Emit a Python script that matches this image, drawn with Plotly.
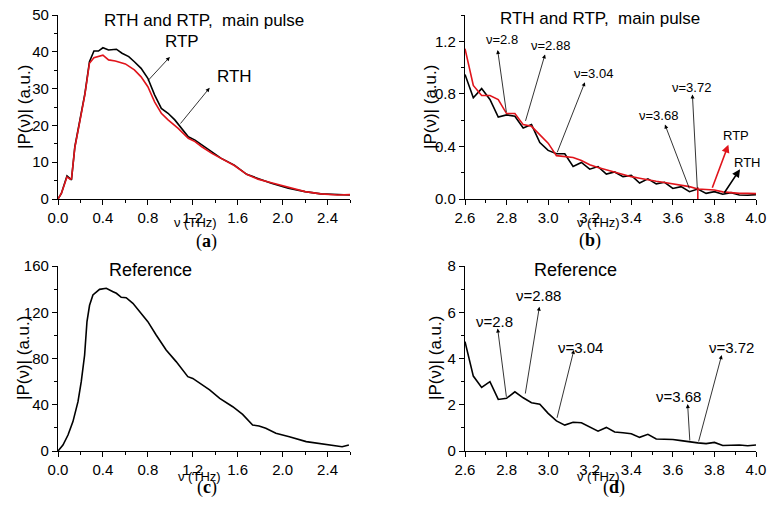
import plotly.graph_objects as go

# panel (a): main pulse, 0 - 2.6 THz
a_nu_rth = [0, 0.03, 0.08, 0.107, 0.12, 0.15, 0.2, 0.24, 0.28, 0.32, 0.36, 0.40, 0.45, 0.49, 0.52,
            0.57, 0.63, 0.68, 0.74, 0.80, 0.86, 0.92, 0.98, 1.04, 1.10, 1.16, 1.22, 1.28, 1.37,
            1.45, 1.57, 1.68, 1.78, 1.90, 2.05, 2.20, 2.34, 2.49, 2.60]
a_rth = [0, 1.5, 6.3, 5.6, 5.2, 14.2, 22.4, 28.7, 37.3, 40.2, 40.2, 41.1, 40.5, 40.5, 40.7,
         39.6, 38.7, 37.3, 35.5, 32.8, 28.3, 24.6, 23.3, 21.5, 19.2, 16.9, 16.0, 14.7, 12.9,
         11.1, 9.2, 6.7, 5.6, 4.3, 2.9, 2.0, 1.4, 1.2, 1.1]
a_nu_rtp = [0, 0.03, 0.08, 0.107, 0.12, 0.15, 0.2, 0.24, 0.28, 0.32, 0.40, 0.45, 0.51, 0.60,
            0.68, 0.74, 0.80, 0.86, 0.92, 0.98, 1.07, 1.16, 1.22, 1.28, 1.37, 1.45, 1.57,
            1.68, 1.78, 1.90, 2.05, 2.20, 2.34, 2.49, 2.60]
a_rtp = [0, 1.5, 6.0, 5.4, 5.5, 14.0, 22.0, 28.5, 36.9, 38.4, 39.1, 37.8, 37.5, 36.7,
         35.1, 33.2, 30.5, 26.4, 23.3, 21.5, 19.2, 16.5, 15.6, 14.2, 12.4, 11.1, 9.1,
         6.7, 5.4, 4.4, 3.1, 2.0, 1.4, 1.1, 1.2]

# panel (b): main pulse, 2.6 - 4.0 THz
b_nu = [2.60, 2.64, 2.68, 2.72, 2.76, 2.80, 2.84, 2.88, 2.92, 2.96, 3.00, 3.04, 3.08, 3.12,
        3.16, 3.20, 3.24, 3.28, 3.32, 3.36, 3.40, 3.44, 3.48, 3.52, 3.56, 3.60, 3.64, 3.68,
        3.72, 3.76, 3.80, 3.84, 3.88, 3.92, 3.96, 4.00]
b_rth = [0.948, 0.77, 0.84, 0.757, 0.624, 0.64, 0.63, 0.54, 0.566, 0.43, 0.37, 0.344, 0.344,
         0.247, 0.278, 0.227, 0.247, 0.19, 0.206, 0.17, 0.18, 0.122, 0.153, 0.115, 0.127,
         0.08, 0.094, 0.056, 0.076, 0.043, 0.056, 0.036, 0.048, 0.03, 0.028, 0.033]
b_rtp = [1.144, 0.864, 0.787, 0.787, 0.757, 0.65, 0.65, 0.566, 0.553, 0.49, 0.425, 0.33, 0.324,
         0.316, 0.293, 0.26, 0.24, 0.222, 0.204, 0.19, 0.17, 0.158, 0.145, 0.135, 0.125,
         0.115, 0.10, 0.094, 0.076, 0.074, 0.069, 0.054, 0.048, 0.043, 0.043, 0.041]

# panel (c): reference, 0 - 2.6 THz
c_nu = [0, 0.044, 0.089, 0.133, 0.178, 0.207, 0.237, 0.258, 0.281, 0.311, 0.37, 0.43, 0.49,
        0.52, 0.563, 0.607, 0.667, 0.726, 0.80, 0.874, 0.963, 1.052, 1.156, 1.20, 1.26, 1.35,
        1.44, 1.556, 1.644, 1.689, 1.733, 1.79, 1.85, 1.94, 2.06, 2.21, 2.33, 2.44, 2.53, 2.59]
c_ref = [0, 5.2, 13.8, 25.4, 42.7, 60, 83, 112, 126, 135, 139.8, 140.7, 137.8,
         136.4, 132.9, 132.6, 127.7, 120.5, 111.9, 100.3, 87.4, 77.3, 64.3, 62.8, 58.5, 52.8,
         45.5, 38.3, 31.7, 26.8, 22.5, 21.6, 19.6, 15.3, 12.4, 8.1, 6.6, 4.6, 3.7, 5.2]

# panel (d): reference, 2.6 - 4.0 THz
d_ref = [4.73, 3.24, 2.75, 3.0, 2.23, 2.28, 2.56, 2.3, 2.09, 2.02, 1.63, 1.30, 1.12, 1.24,
         1.22, 1.05, 0.86, 1.02, 0.82, 0.79, 0.75, 0.59, 0.72, 0.52, 0.52, 0.50, 0.45, 0.39,
         0.35, 0.32, 0.37, 0.24, 0.26, 0.26, 0.23, 0.26]

# labelled frequencies: (text, text pos, arrow tail, arrow head)
b_marks = [("ν=2.8", (2.776, 1.21), (2.80, 0.65), (2.757, 1.134)),
           ("ν=2.88", (3.009, 1.169), (2.889, 0.583), (2.985, 1.10)),
           ("ν=3.04", (3.217, 0.955), (3.041, 0.344), (3.177, 0.889)),
           ("ν=3.68", (3.53, 0.637), (3.682, 0.069), (3.562, 0.566)),
           ("ν=3.72", (3.69, 0.851), (3.718, 0.069), (3.694, 0.795))]
d_marks = [("ν=2.8", (2.744, 5.62), (2.80, 2.28), (2.757, 5.3)),
           ("ν=2.88", (2.953, 6.74), (2.889, 2.42), (2.958, 6.24)),
           ("ν=3.04", (3.158, 4.47), (3.041, 1.37), (3.124, 4.37)),
           ("ν=3.68", (3.626, 2.35), (3.682, 0.39), (3.671, 2.03)),
           ("ν=3.72", (3.88, 4.48), (3.722, 0.35), (3.835, 4.15))]

FONT = "Liberation Sans, Arial, sans-serif"
W, H = 774, 512

fig = go.Figure()

fig.add_trace(go.Scatter(x=a_nu_rth, y=a_rth, mode="lines", line=dict(color="black", width=1.6),
                         xaxis="x", yaxis="y"))
fig.add_trace(go.Scatter(x=a_nu_rtp, y=a_rtp, mode="lines", line=dict(color="#e0141b", width=1.6),
                         xaxis="x", yaxis="y"))
fig.add_trace(go.Scatter(x=b_nu, y=b_rth, mode="lines", line=dict(color="black", width=1.6),
                         xaxis="x2", yaxis="y2"))
fig.add_trace(go.Scatter(x=b_nu, y=b_rtp, mode="lines", line=dict(color="#e0141b", width=1.6),
                         xaxis="x2", yaxis="y2"))
fig.add_trace(go.Scatter(x=c_nu, y=c_ref, mode="lines", line=dict(color="black", width=1.6),
                         xaxis="x3", yaxis="y3"))
fig.add_trace(go.Scatter(x=b_nu, y=d_ref, mode="lines", line=dict(color="black", width=1.6),
                         xaxis="x4", yaxis="y4"))


def px_dom(lo, hi, size, flip=False):
    if flip:
        return [1 - hi / size, 1 - lo / size]
    return [lo / size, hi / size]


def axis(dom, rng, dtick, mdtick, fmt, anchor):
    return dict(domain=dom, range=rng, dtick=dtick, tick0=0, tickformat=fmt, anchor=anchor,
                automargin=False,
                showline=True, linecolor="black", linewidth=1.2, ticks="outside", ticklen=5,
                tickwidth=1, tickcolor="black", showgrid=False, zeroline=False,
                tickfont=dict(family=FONT, size=15, color="black"),
                minor=dict(dtick=mdtick, ticks="outside", ticklen=3, tickcolor="black"))


top_y = px_dom(15, 199, H, flip=True)
bot_y = px_dom(266, 451, H, flip=True)
left_x = px_dom(58, 350, W)
right_x = px_dom(465, 756, W)

annotations = []


def label(text, x, y, xref, yref, size, color="black", family=FONT, angle=0):
    annotations.append(dict(text=text, x=x, y=y, xref=xref, yref=yref, showarrow=False,
                            textangle=angle, font=dict(family=family, size=size, color=color),
                            xanchor="center", yanchor="middle"))


def arrow(tail, head, xr, yr, color="black", width=0.8, size=1.0):
    annotations.append(dict(text="", x=head[0], y=head[1], ax=tail[0], ay=tail[1],
                            xref=xr, yref=yr, axref=xr, ayref=yr, showarrow=True,
                            arrowhead=2, arrowsize=size, arrowwidth=width, arrowcolor=color,
                            standoff=0, startstandoff=0))


# titles, axis titles, panel letters (paper pixel positions)
for cx, cy, txt, sz in [(204, 20, "RTH and RTP,  main pulse", 17), (600, 18, "RTH and RTP,  main pulse", 17),
                        (150, 270, "Reference", 18), (575, 270, "Reference", 18)]:
    label(txt, cx / W, 1 - cy / H, "paper", "paper", sz)
for cx, cy in [(24, 107), (430, 107), (23, 358), (435, 358)]:
    label("|P(ν)| (a.u.)", cx / W, 1 - cy / H, "paper", "paper", 17, angle=-90)
for cx, cy in [(195, 222), (598, 222), (200, 476), (598, 476)]:
    label("ν (THz)", cx / W, 1 - cy / H, "paper", "paper", 13)
for cx, cy, t in [(207, 241, "a"), (590, 240, "b"), (207, 487, "c"), (614, 487, "d")]:
    label("(<b>" + t + "</b>)", cx / W, 1 - cy / H, "paper", "paper", 18,
          family="Liberation Serif, Times New Roman, serif")

# panel (a) curve labels
label("RTP", 1.10, 42.7, "x", "y", 17)
arrow((0.79, 31.8), (0.996, 38.6), "x", "y")
label("RTH", 1.57, 33.2, "x", "y", 17)
arrow((1.08, 20.1), (1.35, 30.2), "x", "y")

# panel (b)
for txt, tp, tail, head in b_marks:
    label(txt, tp[0], tp[1], "x2", "y2", 13)
    arrow(tail, head, "x2", "y2")
label("RTP", 3.904, 0.48, "x2", "y2", 13)
arrow((3.787, 0.074), (3.867, 0.413), "x2", "y2", color="#e0141b", width=1.6)
label("RTH", 3.955, 0.278, "x2", "y2", 13)
arrow((3.843, 0.036), (3.923, 0.227), "x2", "y2", width=1.6)

# panel (d)
for txt, tp, tail, head in d_marks:
    label(txt, tp[0], tp[1], "x4", "y4", 15)
    arrow(tail, head, "x4", "y4")

fig.update_layout(
    width=W, height=H,
    margin=dict(l=0, r=0, t=0, b=0),
    paper_bgcolor="white", plot_bgcolor="white",
    showlegend=False,
    xaxis=axis(left_x, [0, 2.6], 0.4, 0.2, ".1f", "y"),
    yaxis=axis(top_y, [0, 50], 10, 5, "d", "x"),
    xaxis2=axis(right_x, [2.6, 4.0], 0.2, 0.1, ".1f", "y2"),
    yaxis2=axis(top_y, [0, 1.4], 0.4, 0.2, ".1f", "x2"),
    xaxis3=axis(left_x, [0, 2.6], 0.4, 0.2, ".1f", "y3"),
    yaxis3=axis(bot_y, [0, 160], 40, 20, "d", "x3"),
    xaxis4=axis(right_x, [2.6, 4.0], 0.2, 0.1, ".1f", "y4"),
    yaxis4=axis(bot_y, [0, 8], 2, 1, "d", "x4"),
    annotations=annotations,
    shapes=[dict(type="line", xref="x2", yref="y2", x0=3.72, x1=3.72, y0=0, y1=0.09,
                 line=dict(color="#e0141b", width=1.6))],
)

# drop the page's default body margin so the figure fills the window
fig.write_html("out.html", config={"displayModeBar": False},
               post_script="document.body.style.margin='0';")
